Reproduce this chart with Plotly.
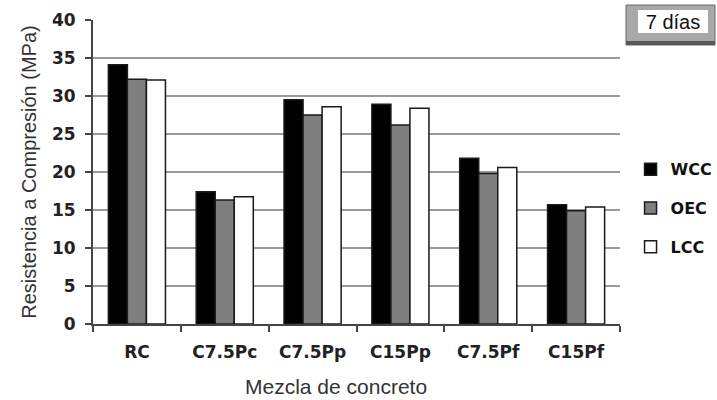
import plotly.graph_objects as go

categories = ["RC", "C7.5Pc", "C7.5Pp", "C15Pp", "C7.5Pf", "C15Pf"]
wcc = [34.1, 17.4, 29.5, 28.9, 21.8, 15.7]
oec = [32.2, 16.3, 27.5, 26.2, 19.8, 14.9]
lcc = [32.1, 16.75, 28.6, 28.4, 20.6, 15.4]
series_names = ["WCC", "OEC", "LCC"]
series_colors = ["#000000", "#7f7f7f", "#ffffff"]
y_ticks = [0, 5, 10, 15, 20, 25, 30, 35, 40]

fig = go.Figure()
for name, vals, col in zip(series_names, [wcc, oec, lcc], series_colors):
    fig.add_trace(go.Bar(
        x=categories, y=vals, name=name, legendgroup=name,
        marker=dict(color=col, line=dict(color="#1a1a1a", width=1.5)),
    ))

tickfont = dict(family="DejaVu Sans", size=17, color="#222222", weight="bold")

fig.update_layout(
    width=717, height=400,
    margin=dict(l=93, r=97, t=20, b=76, autoexpand=False),
    plot_bgcolor="white", paper_bgcolor="white",
    barmode="group", bargap=0.35, bargroupgap=0,
    showlegend=True,
    legend=dict(
        x=1.02, y=0.565, xanchor="left", yanchor="top",
        font=dict(family="DejaVu Sans", size=16, color="#111111", weight="bold"),
        traceorder="grouped", tracegroupgap=15,
        itemwidth=30, bgcolor="rgba(0,0,0,0)",
    ),
    xaxis=dict(
        type="category", showline=True, linecolor="#444444", linewidth=2,
        ticks="outside", tickson="boundaries", ticklen=6, tickwidth=2, tickcolor="#444444",
        tickfont=tickfont, ticklabelstandoff=12, showgrid=False, automargin=False,
    ),
    yaxis=dict(
        range=[0, 40], tickvals=y_ticks, showline=True, linecolor="#444444", linewidth=2,
        ticks="outside", ticklen=6, tickwidth=2, tickcolor="#444444",
        tickfont=tickfont, ticklabelstandoff=6, automargin=False,
        showgrid=True, gridcolor="#9a9a9a", gridwidth=2, zeroline=False,
        title=dict(text="Resistencia a Compresión (MPa)",
                   font=dict(family="Liberation Sans", size=20, color="#333333"),
                   standoff=10),
    ),
    annotations=[
        dict(text="Mezcla de concreto", xref="paper", yref="paper",
             x=(336 - 93) / 527, y=(324 - 386) / 304, xanchor="center", yanchor="middle",
             showarrow=False,
             font=dict(family="Liberation Sans", size=21, color="#333333")),
        dict(text="7 días", xref="paper", yref="paper",
             x=(673 - 93) / 527, y=(324 - 21.5) / 304, xanchor="center", yanchor="middle",
             showarrow=False, width=70, height=23, borderpad=0, borderwidth=0,
             font=dict(family="Liberation Sans", size=20, color="#111111"),
             bgcolor="white"),
    ],
    shapes=[
        dict(type="rect", xref="paper", yref="paper",
             x0=(626 - 93) / 527, x1=(715 - 93) / 527,
             y0=(324 - 45) / 304, y1=(324 - 5) / 304,
             fillcolor="#a8a8a8", line=dict(color="#666666", width=1), layer="above"),
        dict(type="rect", xref="paper", yref="paper",
             x0=(626 - 93) / 527, x1=(715 - 93) / 527,
             y0=(324 - 45) / 304, y1=(324 - 41) / 304,
             fillcolor="#5a5a5a", line=dict(width=0), layer="above"),
    ],
)

fig.write_html("out.html", config={"displayModeBar": False},
               post_script="document.body.style.margin='0px';document.body.style.overflow='hidden';")
